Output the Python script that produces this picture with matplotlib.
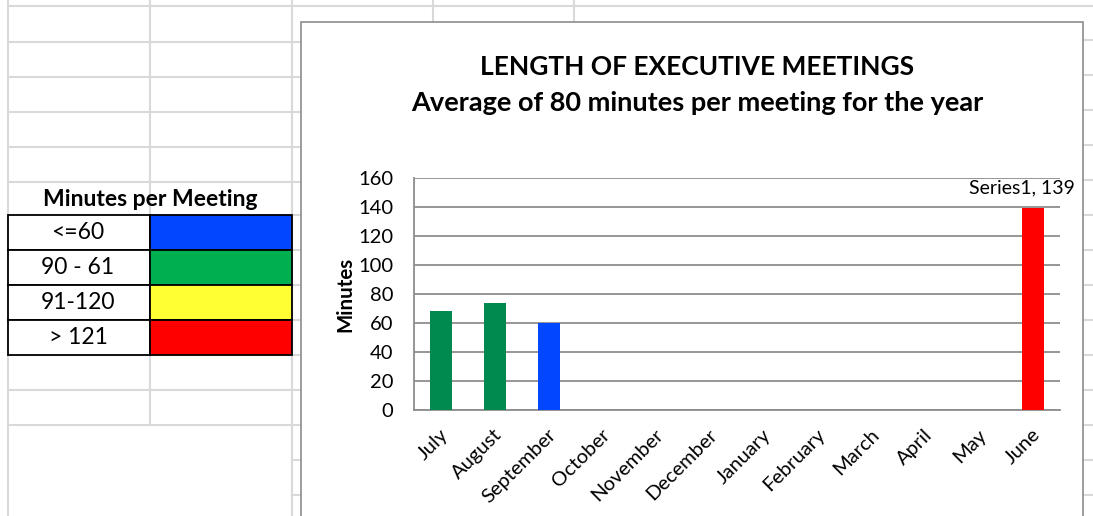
import numpy as np
import matplotlib
matplotlib.use('Agg')
import matplotlib.pyplot as plt
from matplotlib.lines import Line2D
from matplotlib.patches import Rectangle
from matplotlib.transforms import ScaledTranslation

plt.rcParams['font.family'] = ['Lato', 'DejaVu Sans']

# ---- data ----
months = ['July', 'August', 'September', 'October', 'November', 'December',
          'January', 'February', 'March', 'April', 'May', 'June']
minutes = [68, 74, 60, 0, 0, 0, 0, 0, 0, 0, 0, 139]

legend_title = 'Minutes per Meeting'
legend_labels = ['<=60', '90 - 61', '91-120', '> 121']
legend_colors = ['#0047FF', '#00B050', '#FFFF33', '#FF0000']

title_line1 = 'LENGTH OF EXECUTIVE MEETINGS'
title_line2 = 'Average of 80 minutes per meeting for the year'


def bar_color(v):
    # same bins as the colour key
    if v <= 60:
        return '#0047FF'
    if v <= 90:
        return '#008A50'
    if v <= 120:
        return '#FFFF33'
    return '#FF0000'


W, H = 1093, 516
fig = plt.figure(figsize=(W / 100, H / 100), dpi=100)
fig.patch.set_facecolor('white')


def fx(x):
    return x / W


def fy(y):
    return 1 - y / H


def hline(x0, x1, y, color='#d9d9d9', lw=1.5, z=0):
    fig.add_artist(Line2D([fx(x0), fx(x1)], [fy(y), fy(y)], color=color, lw=lw,
                          transform=fig.transFigure, zorder=z))


def vline(x, y0, y1, color='#d9d9d9', lw=1.5, z=0):
    fig.add_artist(Line2D([fx(x), fx(x)], [fy(y0), fy(y1)], color=color, lw=lw,
                          transform=fig.transFigure, zorder=z))


# ---- spreadsheet background grid ----
left_rows = [6, 42, 77, 112, 147, 182, 215, 250, 285, 320, 355, 390, 425]
for y in left_rows:
    hline(8, 300, y)
hline(300, W, 6)
vline(8, 0, H)
vline(150, 0, 425)
vline(292, 0, H)
vline(433, 0, 22)
vline(574, 0, 22)
for y in [460, 495]:
    hline(292, 300, y)
for y in [40, 75, 110, 145, 180, 215, 250, 285, 320, 355, 390, 425, 460, 495]:
    hline(1083, W, y)

# ---- colour key table ----
fig.text(fx(150), fy(199), legend_title, ha='center', va='center',
         fontsize=16.5, fontweight='bold')
row_top = 215
row_h = 35
for i, (lab, col) in enumerate(zip(legend_labels, legend_colors)):
    y0 = row_top + i * row_h
    fig.add_artist(Rectangle((fx(8), fy(y0 + row_h)), fx(142), row_h / H,
                             facecolor='white', edgecolor='black', lw=1.3,
                             transform=fig.transFigure, zorder=2))
    fig.add_artist(Rectangle((fx(150), fy(y0 + row_h)), fx(142), row_h / H,
                             facecolor=col, edgecolor='black', lw=1.3,
                             transform=fig.transFigure, zorder=2))
    fig.text(fx(78), fy(y0 + row_h / 2), lab, ha='center', va='center',
             fontsize=16.5, zorder=3)

# ---- chart frame ----
fig.add_artist(Rectangle((fx(301), fy(540)), fx(1083 - 301), (540 - 22) / H,
                         facecolor='white', edgecolor='#8c8c8c', lw=1.2,
                         transform=fig.transFigure, zorder=1))

fig.text(fx(697), fy(67), title_line1, ha='center', va='center',
         fontsize=19, fontweight='bold', zorder=3)
fig.text(fx(697), fy(103), title_line2, ha='center', va='center',
         fontsize=19.5, fontweight='bold', zorder=3)

# ---- bar chart ----
ax = fig.add_axes([fx(414), fy(410), (1060 - 414) / W, (410 - 178) / H], zorder=4)
ax.patch.set_alpha(0)
x = np.arange(len(months))
vals = np.array(minutes, dtype=float)
ax.bar(x, vals, width=0.41, color=[bar_color(v) for v in vals], zorder=3)

ax.set_xlim(-0.5, len(months) - 0.5)
ax.set_ylim(0, 160)
ax.set_yticks(np.arange(0, 161, 20))
ax.yaxis.grid(True, color='#8e8e8e', lw=1.3, zorder=0)
ax.set_axisbelow(True)
for s in ['top', 'right']:
    ax.spines[s].set_visible(False)
ax.spines['left'].set_color('#8e8e8e')
ax.spines['bottom'].set_color('#8e8e8e')
ax.spines['left'].set_linewidth(1.3)
ax.spines['bottom'].set_linewidth(1.3)
ax.tick_params(axis='both', length=0, labelsize=14.5)
ax.tick_params(axis='y', pad=15)
ax.tick_params(axis='x', pad=11.5)

ax.set_xticks(x)
ax.set_xticklabels(months, rotation=45, ha='right', va='top', rotation_mode='anchor')
for lab in ax.get_xticklabels():
    lab.set_transform(lab.get_transform() + ScaledTranslation(-0.015, 0, fig.dpi_scale_trans))

ax.text(-0.107, 0.5, 'Minutes', transform=ax.transAxes, rotation=90,
        ha='center', va='center', fontsize=14.8, fontweight='bold')

# data label on the tallest bar
ax.annotate(f'Series1, {minutes[-1]}', xy=(x[-1], vals[-1]), xytext=(-8, 15),
            textcoords='offset points', ha='center', va='center', fontsize=14)

fig.savefig('out.png', dpi=100, facecolor='white')
